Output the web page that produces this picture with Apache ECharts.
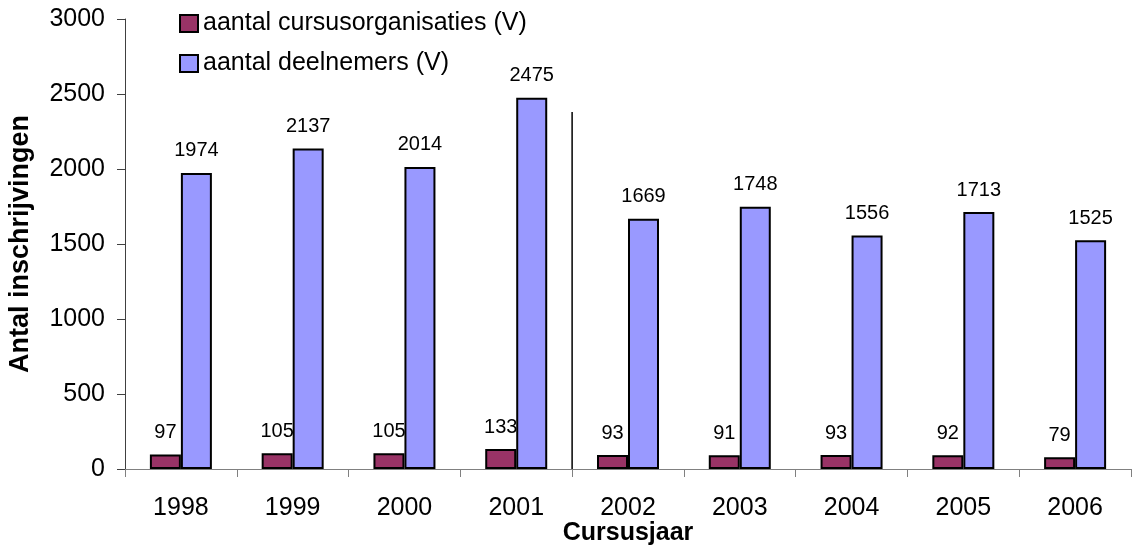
<!DOCTYPE html>
<html>
<head>
<meta charset="utf-8">
<script src="https://cdn.jsdelivr.net/npm/echarts@6/dist/echarts.min.js"></script>
<style>html,body{margin:0;padding:0;background:#fff;}#c{width:1134px;height:548px;}</style>
</head>
<body>
<div id="c"></div>
<script>
const categories = ['1998','1999','2000','2001','2002','2003','2004','2005','2006'];
const organisaties = [97,105,105,133,93,91,93,92,79];
const deelnemers = [1974,2137,2014,2475,1669,1748,1556,1713,1525];
const seriesNames = ['aantal cursusorganisaties (V)','aantal deelnemers (V)'];
const yTicks = [0,500,1000,1500,2000,2500,3000];
const dividerTop = 2380;

const FONT = '"Liberation Sans", Arial, sans-serif';
const chart = echarts.init(document.getElementById('c'), null, {renderer:'canvas'});
const labelStyle = {show:true, position:'top', distance:12, color:'#000', fontSize:20, fontFamily:FONT};
chart.setOption({
  animation:false,
  backgroundColor:'#fff',
  grid:{left:125, right:3, top:19, bottom:79, containLabel:false, outerBoundsMode:'none'},
  legend:{
    orient:'vertical', left:179, top:11, padding:0, itemWidth:18, itemHeight:17, itemGap:15,
    icon:'rect',
    textStyle:{fontSize:25, fontFamily:FONT, color:'#000', padding:[0,0,0,0]},
    data:seriesNames
  },
  xAxis:{
    type:'category', data:categories,
    name:'Cursusjaar', nameLocation:'middle', nameGap:52, nameMoveOverlap:false,
    nameTextStyle:{fontSize:25, fontWeight:'bold', fontFamily:FONT, color:'#000'},
    axisLine:{lineStyle:{color:'#808080', width:1}},
    axisTick:{show:true, length:8, lineStyle:{color:'#808080'}},
    axisLabel:{fontSize:25, fontFamily:FONT, color:'#000', margin:27}
  },
  yAxis:{
    type:'value', min:yTicks[0], max:yTicks[yTicks.length-1], interval:500,
    name:'Antal inschrijvingen', nameLocation:'middle', nameGap:91, nameMoveOverlap:false,
    nameTextStyle:{fontSize:27, fontWeight:'bold', fontFamily:FONT, color:'#000'},
    axisLine:{show:true, lineStyle:{color:'#404040', width:1}},
    axisTick:{show:true, length:8, lineStyle:{color:'#404040'}},
    axisLabel:{fontSize:25, fontFamily:FONT, color:'#000', margin:20, formatter:function(v){return String(v);}},
    splitLine:{show:false}
  },
  series:[
    {name:seriesNames[0], type:'bar', data:organisaties, barWidth:31, barGap:'0%',
     itemStyle:{color:'#993366', borderColor:'#000', borderWidth:2}, label:labelStyle},
    {name:seriesNames[1], type:'bar', data:deelnemers, barWidth:31, barGap:'0%',
     itemStyle:{color:'#9999FF', borderColor:'#000', borderWidth:2}, label:labelStyle}
  ]
});
const pA = chart.convertToPixel({gridIndex:0}, [categories[3], 0]);
const pB = chart.convertToPixel({gridIndex:0}, [categories[4], dividerTop]);
const xm = (pA[0]+pB[0])/2;
chart.setOption({graphic:[{type:'line', shape:{x1:xm, y1:pB[1], x2:xm, y2:pA[1]}, style:{stroke:'#000', lineWidth:1.5}}]});
</script>
</body>
</html>
